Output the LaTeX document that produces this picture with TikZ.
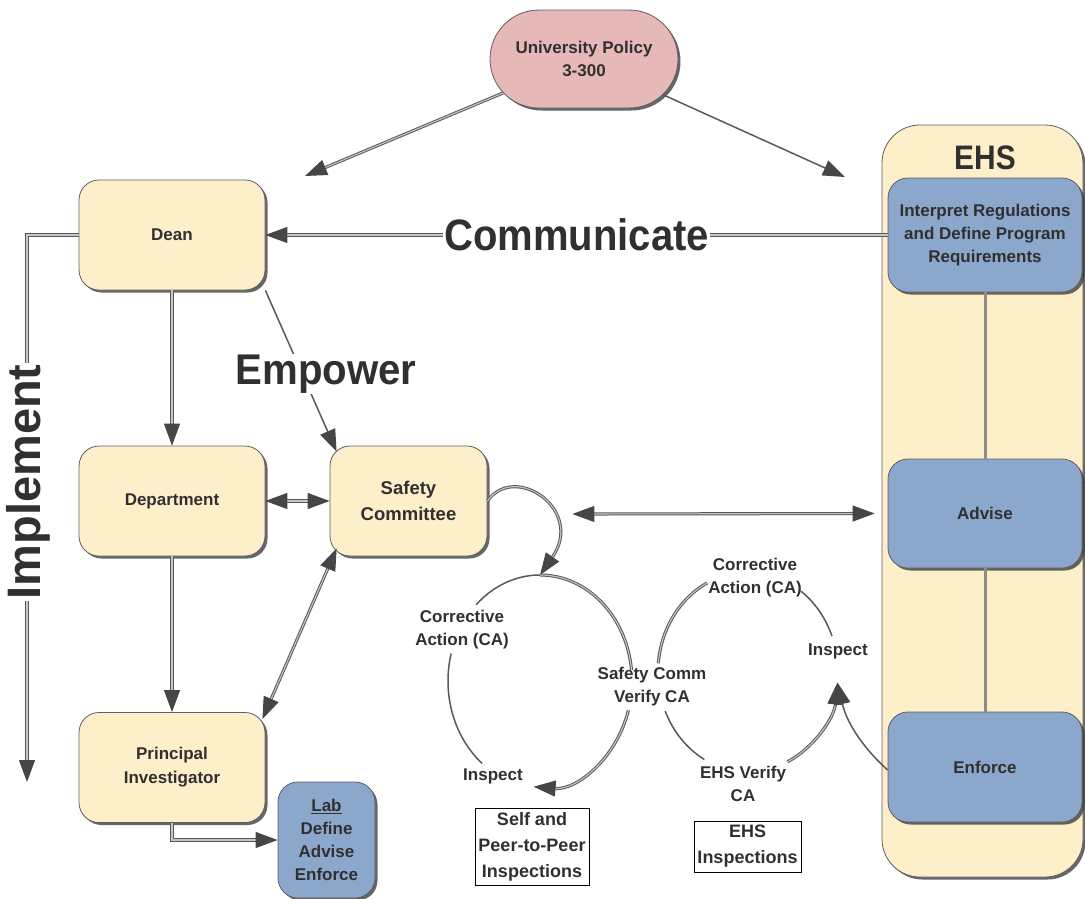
\documentclass[tikz,border=0pt]{standalone}
\usepackage{fontspec}
\setmainfont{Liberation Sans}
\usetikzlibrary{arrows.meta,shapes.misc,shadows,calc}
\definecolor{cream}{RGB}{253,239,201}
\definecolor{bluebox}{RGB}{139,167,204}
\definecolor{pinkbox}{RGB}{230,184,183}
\definecolor{txt}{RGB}{48,48,48}
\definecolor{edge}{RGB}{95,95,95}
\definecolor{tipc}{RGB}{70,70,70}
\begin{document}
\begin{tikzpicture}[x=1pt,y=-1pt,
 every node/.style={text=txt, font=\bfseries\fontsize{17}{23}\selectfont, align=center},
 shad/.style={drop shadow={shadow xshift=2.5pt, shadow yshift=-2.5pt, opacity=0.75, fill=black!80}},
 box/.style={draw=edge, line width=0.8pt, rounded corners=20pt, minimum width=186pt, minimum height=110pt, inner sep=0pt, shad},
 cbox/.style={box, fill=cream},
 bbox/.style={box, fill=bluebox},
 conn/.style={draw=black!65, double=black!22, double distance=1.1pt, line width=1pt},
 sline/.style={draw=black!65, line width=1.5pt},
 arr/.style={-{Triangle[length=22pt,width=16pt,color=tipc,fill=tipc]}},
 arrs/.style={{Triangle[length=22pt,width=16pt,color=tipc,fill=tipc]}-{Triangle[length=22pt,width=16pt,color=tipc,fill=tipc]}},
 big/.style={fill=white, inner sep=1pt},
 insp/.style={draw=black, line width=1pt, inner sep=0pt, font=\bfseries\fontsize{18}{26}\selectfont},
]
\useasboundingbox (0,0) rectangle (1085,898);

% EHS container
\node[draw=edge, line width=0.8pt, fill=cream, rounded corners=38pt, minimum width=201pt, minimum height=752pt, shad] (ehs) at (982.5,501) {};
\node[font=\bfseries\fontsize{34}{38}\selectfont] (ehsl) at (985,158) {\scalebox{0.88}[1]{EHS}};
\node[bbox, minimum width=194pt, minimum height=114pt] (interp) at (985,235) {Interpret Regulations\\and Define Program\\Requirements};
\node[bbox, minimum width=194pt, minimum height=109pt] (adv) at (985,513.5) {Advise};
\node[bbox, minimum width=194pt, minimum height=110pt] (enf) at (985,767) {Enforce};
\draw[draw=black!45, line width=3pt] (interp.south) -- (adv.north);
\draw[draw=black!45, line width=3pt] (adv.south) -- (enf.north);

% policy
\node[rounded rectangle, draw=edge, line width=0.8pt, fill=pinkbox, minimum width=188pt, minimum height=98pt, inner sep=0pt, shad] (pol) at (584,59) {University Policy\\3-300};

% university boxes
\node[cbox] (dean) at (172,235) {Dean};
\node[cbox] (dept) at (172,501) {Department};
\node[cbox, minimum width=157pt, font=\bfseries\fontsize{18.5}{26}\selectfont] (sc) at (408.5,501) {Safety\\Committee};
\node[cbox, font=\bfseries\fontsize{17}{24}\selectfont] (pi) at (172,767.5) {Principal\\Investigator};
\node[bbox, minimum width=97pt, minimum height=116pt] (lab) at (326.5,840) {\underline{Lab}\\Define\\Advise\\Enforce};

% connectors
\coordinate (deanTop) at (305,176);
\coordinate (ehsTop) at (845,177);
\draw[conn, arr] (pol) -- (deanTop);
\draw[sline, arr] (pol) -- (ehsTop);
\draw[conn, arr] (interp.west) -- node[big, pos=0.5, font=\bfseries\fontsize{44}{48}\selectfont] (comm) {\scalebox{0.91}[1]{Communicate}} (dean.east);
\coordinate (implEnd) at (27,782);
\draw[conn, arr] (dean.west) -| (implEnd);
\node[big, rotate=90, font=\bfseries\fontsize{47}{50}\selectfont] (impl) at (28,482) {Implement};
\draw[conn, arr] (dean.south) -- (dept.north);
\draw[sline, arr] (dean.south east) -- ([shift={(7,6)}]sc.north west);
\node[big, font=\bfseries\fontsize{43}{46}\selectfont] (emp) at (326,374) {\scalebox{0.935}[1]{Empower}};
\draw[conn, arrs] (dept.east) -- (sc.west);
\draw[conn, arr] (dept.south) -- (pi.north);
\draw[conn, arrs] ([shift={(7,-8)}]sc.south west) -- ([shift={(-3,7)}]pi.north east);
\draw[conn, arr] (pi.south) |- (lab.west);
\draw[conn, arrs] ([xshift=85pt, yshift=-13pt]sc.east) -- ([xshift=-13pt]adv.west);

% left cycle
\coordinate (lc) at (540,681);
\coordinate (lTop) at (540,575);
\draw[conn, arr] (sc.east) .. controls (515,462) and (585,510) .. (lTop);
\draw[conn] (lc) ++(-90:92 and 106) arc[start angle=-90, end angle=-6, x radius=92, y radius=106];
\draw[conn, arr] (lc) ++(16:92 and 106) arc[start angle=16, end angle=94, x radius=92, y radius=106];
\draw[sline] (lc) ++(129:92 and 106) arc[start angle=129, end angle=195, x radius=92, y radius=106];
\draw[sline] (lc) ++(226:92 and 106) arc[start angle=226, end angle=270, x radius=92, y radius=106];
\node (ca1) at (462,630) {Corrective\\Action (CA)};
\node (in1) at (493,776) {Inspect};
\node (sv) at (652,687) {Safety Comm\\Verify CA};

% right cycle
\coordinate (rc) at (748,672);
\coordinate (tipR) at ($(rc)+(6:90 and 100)$);
\draw[sline] (rc) ++(-54:90 and 100) arc[start angle=-54, end angle=-21, x radius=90, y radius=100];
\draw[conn, arr] (rc) ++(64:90 and 100) arc[start angle=64, end angle=6, x radius=90, y radius=100];
\draw[sline] (rc) ++(119:90 and 100) arc[start angle=119, end angle=157, x radius=90, y radius=100];
\draw[conn] (rc) ++(185:90 and 100) arc[start angle=185, end angle=243, x radius=90, y radius=100];
\draw[sline, arr] ([yshift=-3pt]enf.west) .. controls (860,745) and (846,720) .. (tipR);
\node (ca2) at (755,578) {Corrective\\Action (CA)};
\node (in2) at (838,651) {Inspect};
\node (ev) at (743,784) {EHS Verify\\CA};

% inspection boxes
\node[insp, minimum width=114pt, minimum height=77pt] (selfb) at (532,846.5) {Self and\\Peer-to-Peer\\Inspections};
\node[insp, minimum width=107pt, minimum height=51pt] (ehsb) at (747.5,846.5) {EHS\\Inspections};
\end{tikzpicture}
\end{document}
